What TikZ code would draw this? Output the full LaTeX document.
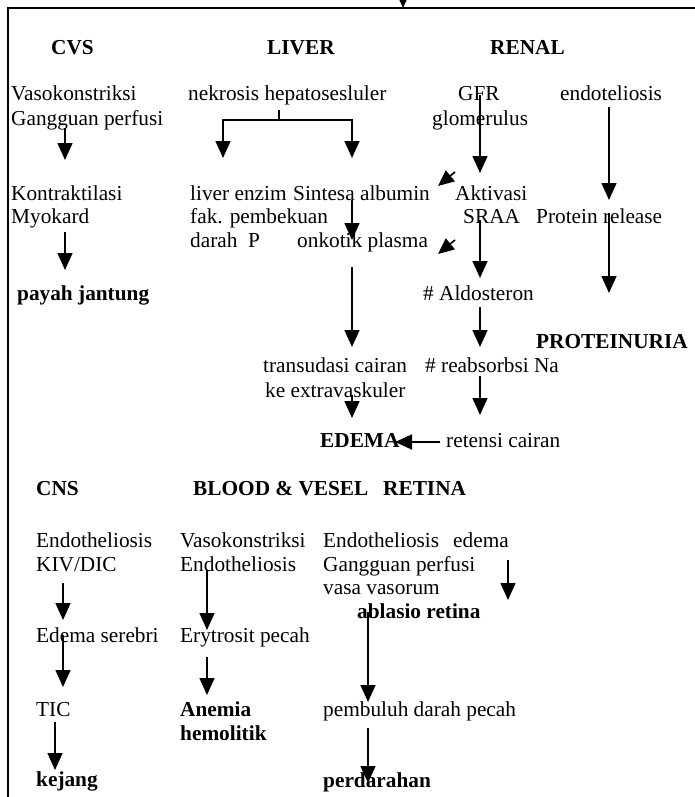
\documentclass[tikz,border=0pt]{standalone}
\usepackage{fontspec}
\setmainfont{Liberation Serif}
\usetikzlibrary{arrows.meta}
\tikzset{
 txt/.style={anchor=base west, inner sep=0pt, font=\fontsize{21.3}{24}\selectfont},
 hd/.style={anchor=base west, inner sep=0pt, font=\fontsize{21.3}{24}\selectfont\bfseries},
 arr/.style={line width=1.6pt, -{Triangle[width=15pt,length=17pt]}},
 sarr/.style={line width=1.6pt, -{Triangle[width=14pt,length=16pt]}},
 ln/.style={line width=1.6pt},
 framel/.style={line width=1.6pt}
}
\newcommand{\varrow}[4]{\coordinate (#1s) at (#2,#3); \coordinate (#1e) at (#2,#4); \draw[arr] (#1s) -- (#1e);}
\begin{document}
\begin{tikzpicture}[x=1pt,y=-1pt]
\useasboundingbox (0,0) rectangle (694,797);
% frame
\coordinate (fbl) at (8,800);
\coordinate (ftl) at (8,8);
\coordinate (ftr) at (700,8);
\draw[framel] (fbl) -- (ftl) -- (ftr);
% incoming arrow at top
\varrow{top}{403}{-14}{8}

% ---------- top section headings
\node[hd] (cvs) at (51,55) {CVS};
\node[hd] (liver) at (267,55) {LIVER};
\node[hd] (renal) at (490,55) {RENAL};

% CVS column
\node[txt] (vaso1) at (11,101) {Vasokonstriksi};
\node[txt] (gang1) at (11,125) {Gangguan perfusi};
\node[txt] (kontr) at (11,200) {Kontraktilasi};
\node[txt] (myo) at (11,223) {Myokard};
\node[hd] (payah) at (17,300) {payah jantung};
\varrow{a1}{65}{128}{160}
\varrow{a2}{65}{232}{270}

% LIVER column
\node[txt] (nekr) at (188,101) {nekrosis hepatosesluler};
\node[txt] (lenz) at (190,200) {liver enzim};
\node[txt] (sint) at (293,200) {Sintesa albumin};
\node[txt] (fak) at (190,223) {fak. pembekuan};
\node[txt] (darP) at (190,247) {darah\ \ P};
\node[txt] (onko) at (297,247) {onkotik plasma};
\node[txt] (trans) at (263,372) {transudasi cairan};
\node[txt] (kext) at (265,397) {ke extravaskuler};
\node[hd] (edema) at (320,447) {EDEMA};
\coordinate (bt) at (279,110);
\coordinate (bj) at (279,120);
\coordinate (bL) at (223,158);
\coordinate (bR) at (352,158);
\draw[ln] (bt) -- (bj);
\draw[arr] (bj) -| (bL);
\draw[arr] (bj) -| (bR);
\varrow{a3}{352}{200}{240}
\varrow{a4}{352}{267}{347}
\varrow{a5}{352}{395}{418}

% RENAL column
\node[txt] (gfr) at (458,101) {GFR};
\node[txt] (glom) at (432,125) {glomerulus};
\node[txt] (endo) at (560,101) {endoteliosis};
\node[txt] (akt) at (455,200) {Aktivasi};
\node[txt] (sraa) at (463,223) {SRAA};
\node[txt] (prot) at (536,223) {Protein release};
\node[txt] (aldo) at (423,300) {\# Aldosteron};
\node[hd] (proteinuria) at (536,348) {PROTEINURIA};
\node[txt] (reab) at (425,372) {\# reabsorbsi Na};
\node[txt] (ret) at (446,447) {retensi cairan};
\varrow{g1}{480}{95}{173}
\varrow{e1}{609}{107}{200}
\varrow{s1}{480}{220}{278}
\varrow{p1}{609}{213}{293}
\varrow{al}{480}{307}{347}
\varrow{rb}{480}{376}{415}
\coordinate (d1s) at (455,172); \coordinate (d1e) at (438,186);
\draw[sarr] (d1s) -- (d1e);
\coordinate (d2s) at (455,240); \coordinate (d2e) at (438,254);
\draw[sarr] (d2s) -- (d2e);
\coordinate (rts) at (440,442); \coordinate (rte) at (395,442);
\draw[arr] (rts) -- (rte);

% ---------- bottom section headings
\node[hd] (cns) at (36,495) {CNS};
\node[hd] (blood) at (193,495) {BLOOD \& VESEL};
\node[hd] (retina) at (383,495) {RETINA};

% CNS column
\node[txt] (endc) at (36,547) {Endotheliosis};
\node[txt] (kiv) at (36,571) {KIV/DIC};
\node[txt] (edser) at (36,642) {Edema serebri};
\node[txt] (tic) at (36,716) {TIC};
\node[hd] (kej) at (36,786) {kejang};
\varrow{c1}{63}{583}{620}
\varrow{c2}{63}{635}{687}
\varrow{c3}{55}{722}{770}

% BLOOD column
\node[txt] (vaso2) at (180,547) {Vasokonstriksi};
\node[txt] (endb) at (180,571) {Endotheliosis};
\node[txt] (ery) at (180,642) {Erytrosit pecah};
\node[hd] (anem) at (180,716) {Anemia};
\node[hd] (hemo) at (180,740) {hemolitik};
\varrow{b1}{207}{570}{630}
\varrow{b2}{207}{657}{695}

% RETINA column
\node[txt] (endr) at (323,547) {Endotheliosis};
\node[txt] (edr) at (453,547) {edema};
\node[txt] (gang2) at (323,571) {Gangguan perfusi};
\node[txt] (vasa) at (323,594) {vasa vasorum};
\node[hd] (abl) at (357,618) {ablasio retina};
\node[txt] (pemb) at (323,716) {pembuluh darah pecah};
\node[hd] (perd) at (323,787) {perdarahan};
\varrow{r1}{508}{560}{600}
\varrow{r2}{368}{612}{702}
\varrow{r3}{368}{728}{783}
\end{tikzpicture}
\end{document}
